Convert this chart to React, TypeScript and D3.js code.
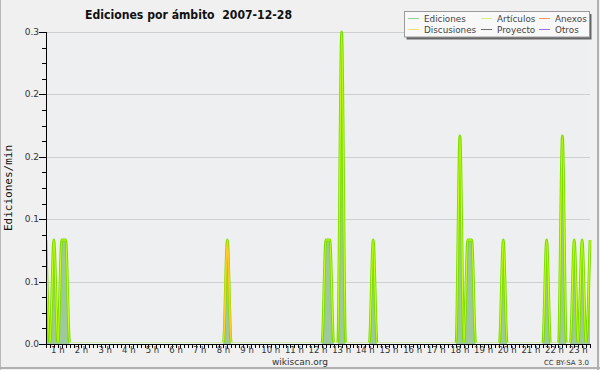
import React from "react";
import * as d3 from "d3";

// ---- data (10-minute bins, edits per minute) ----
const editTimes = ["0:30","0:50","1:10","1:20","8:10","12:20","12:30","13:00","14:20","18:00","18:20","18:30","19:50","21:40","22:20","22:50","23:10","23:30"];
const editValues = [0.1,0.1,0.1,0.1,0.1,0.1,0.1,0.3,0.1,0.2,0.1,0.1,0.1,0.1,0.2,0.1,0.1,0.1];
const articleValues = [0.1,0.1,0.1,0.1,0,0.1,0.1,0.3,0.1,0.2,0.1,0.1,0.1,0.1,0.2,0.1,0.1,0.1];
const talkValues = [0,0,0,0,0.1,0,0,0,0,0,0,0,0,0,0,0,0,0];
const hourTicks = [1,2,3,4,5,6,7,8,9,10,11,12,13,14,15,16,17,18,19,20,21,22,23];
const yMajorTicks = [0, 0.06, 0.12, 0.18, 0.24, 0.3];
const legendItems = [
  { name: "Ediciones", color: "#96d296" },
  { name: "Artículos", color: "#d4f27a" },
  { name: "Anexos", color: "#ff9466" },
  { name: "Discusiones", color: "#ffe07a" },
  { name: "Proyecto", color: "#707070" },
  { name: "Otros", color: "#a070f0" },
];

const W = 600, H = 370;
const left = 46, right = 590, top = 32, bottom = 344;

function toHours(t: string) {
  const [h, m] = t.split(":").map(Number);
  return h + m / 60;
}

function buildSeries(values: number[]) {
  const m = new Map<number, number>();
  editTimes.forEach((t, i) => m.set(Math.round(toHours(t) * 6), values[i]));
  const bins = d3.range(3, 142); // 0:30 .. 23:30 in 10-min steps
  return bins.map((b) => ({ h: b / 6, v: m.get(b) ?? 0 }));
}

export default function App() {
  const x = d3.scaleLinear().domain([0.5, 23.5]).range([left, right]);
  const y = d3.scaleLinear().domain([0, 0.3]).range([bottom, top]);

  const edits = buildSeries(editValues);
  const arts = buildSeries(articleValues);
  const talks = buildSeries(talkValues);

  const area = d3.area<{ h: number; v: number }>()
    .x((d) => x(d.h)).y0(y(0)).y1((d) => y(d.v)).curve(d3.curveMonotoneX);
  const line = d3.line<{ h: number; v: number }>()
    .x((d) => x(d.h)).y((d) => y(d.v)).curve(d3.curveMonotoneX);

  const minorY = d3.range(0, 0.3001, 0.015);
  const xTicks = d3.range(3, 142).map((b) => b / 6);
  const fmt = d3.format(".1f");

  return (
    <svg width={W} height={H} style={{ position: "fixed", left: 0, top: 0 }}
      fontFamily="DejaVu Sans, sans-serif">
      <defs>
        <filter id="soft" x="-20%" y="-5%" width="140%" height="110%">
          <feGaussianBlur stdDeviation="0.45" />
        </filter>
        <clipPath id="plot">
          <rect x={left} y={top - 2} width={right - left + 2} height={bottom - top + 2} />
        </clipPath>
        <clipPath id="lines">
          <rect x={left} y={top - 2} width={right - left + 2} height={bottom - top + 0.5} />
        </clipPath>
      </defs>
      <rect x={0} y={0} width={W} height={H} fill="#f0f0f0" />
      <rect x={left} y={top} width={right - left} height={bottom - top} fill="#eeeff1" />
      {/* frame */}
      <line x1={0.5} y1={0} x2={0.5} y2={H} stroke="#b8b8b8" strokeWidth={1} />
      <line x1={598} y1={0} x2={598} y2={H} stroke="#b0b0b0" strokeWidth={2} />
      <line x1={0} y1={368} x2={W} y2={368} stroke="#b0b0b0" strokeWidth={2} />

      {/* grid */}
      {yMajorTicks.filter((t) => t > 0).map((t) => (
        <line key={"g" + t} x1={left} x2={right} y1={Math.round(y(t)) + 0.5} y2={Math.round(y(t)) + 0.5}
          stroke="#cfcfcf" strokeWidth={1} />
      ))}

      {/* series */}
      <g clipPath="url(#plot)">
        <path d={area(edits) || ""} fill="#9dc99d" />
      </g>
      <g clipPath="url(#lines)">
        <g filter="url(#soft)">
          <path d={line(edits) || ""} fill="none" stroke="#7cdc00" strokeWidth={2.8} />
          <path d={line(arts) || ""} fill="none" stroke="#c8ff10" strokeWidth={1.1} />
          <path d={line(talks) || ""} fill="none" stroke="#ffcc22" strokeWidth={1.8} />
        </g>
      </g>

      {/* y axis */}
      <line x1={left + 0.5} x2={left + 0.5} y1={top} y2={bottom} stroke="#000" />
      {minorY.map((t, i) => (
        <line key={"ym" + i} x1={left - 4} x2={left} y1={Math.round(y(t)) + 0.5} y2={Math.round(y(t)) + 0.5} stroke="#000" />
      ))}
      {yMajorTicks.map((t) => (
        <g key={"yt" + t}>
          <line x1={left - 7} x2={left} y1={Math.round(y(t)) + 0.5} y2={Math.round(y(t)) + 0.5} stroke="#000" />
          <text x={left - 7} y={y(t) + 3} textAnchor="end" fontSize={9} fill="#333">{fmt(t)}</text>
        </g>
      ))}
      <text transform={`translate(12,188) rotate(-90)`} textAnchor="middle" fontSize={11}
        fontFamily="DejaVu Sans Mono, monospace" fill="#111">Ediciones/min</text>

      {/* x axis */}
      <line x1={40} x2={right} y1={bottom + 0.5} y2={bottom + 0.5} stroke="#000" />
      {xTicks.map((h, i) => (
        <line key={"xt" + i} x1={Math.round(x(h)) + 0.5} x2={Math.round(x(h)) + 0.5} y1={bottom} y2={bottom + 4} stroke="#000" />
      ))}
      {hourTicks.map((h) => (
        <text key={"xl" + h} x={x(h)} y={352.5} textAnchor="middle" fontSize={8.5} fill="#333">{h + " h"}</text>
      ))}

      {/* title */}
      <text x={85} y={18.5} fontSize={12.5} fontWeight="bold" fill="#111" textLength={207}
        lengthAdjust="spacingAndGlyphs" xmlSpace="preserve">Ediciones por ámbito  2007-12-28</text>

      {/* legend */}
      <rect x={406.5} y={14} width={185} height={25.5} fill="#666" />
      <rect x={404.5} y={11.5} width={185} height={25.5} fill="#f8f8f8" stroke="#9a9a9a" />
      {legendItems.map((it, i) => {
        const col = i % 3, row = Math.floor(i / 3);
        const lx = [408, 481, 539][col];
        const ly = 18.5 + row * 11;
        return (
          <g key={it.name}>
            <line x1={lx} x2={lx + 11} y1={ly} y2={ly} stroke={it.color} strokeWidth={1} />
            <text x={lx + 16} y={ly + 3.5} fontSize={8.8} fill="#444">{it.name}</text>
          </g>
        );
      })}

      {/* footer */}
      <text x={300} y={365} textAnchor="middle" fontSize={9} fill="#333">wikiscan.org</text>
      <text x={589} y={365} textAnchor="end" fontSize={7} fill="#333">CC BY-SA 3.0</text>
    </svg>
  );
}
